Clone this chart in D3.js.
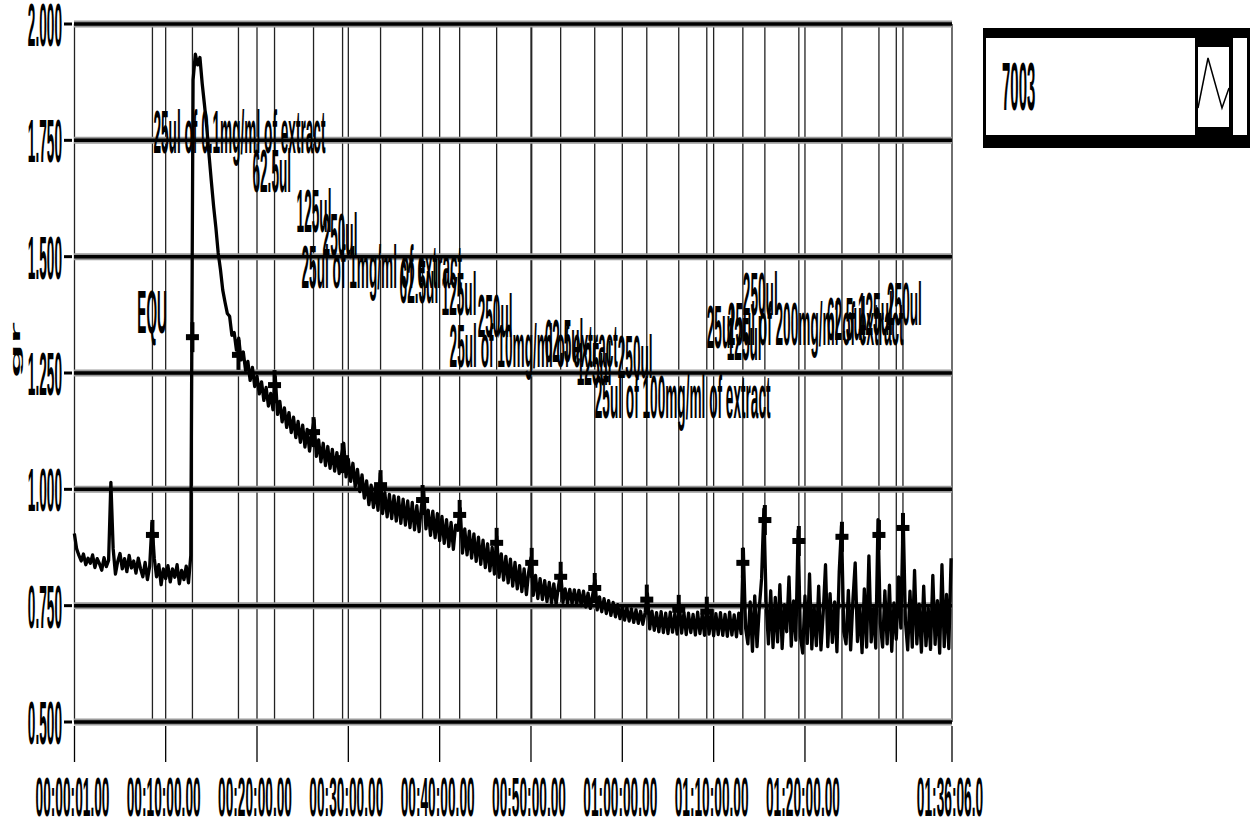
<!DOCTYPE html>
<html>
<head>
<meta charset="utf-8">
<script src="https://cdn.jsdelivr.net/npm/d3@7"></script>
<style>
  body { margin: 0; background: #fff; }
  svg text { font-family: "Liberation Sans", Arial, sans-serif; font-weight: bold; fill: #000; }
</style>
</head>
<body>
<script>
(function() {

	var width = 1252,
		height = 831;

	// recorded trace, one reading every 0.25 min from 00:00
	var sampleStepMin = 0.25;
	var grValues = [
		0.905, 0.872, 0.858, 0.846, 0.861, 0.838, 0.852, 0.841,
		0.859, 0.832, 0.851, 0.840, 0.826, 0.853, 0.834, 0.847,
		1.015, 0.872, 0.818, 0.845, 0.862, 0.829, 0.851, 0.823,
		0.858, 0.831, 0.846, 0.820, 0.852, 0.829, 0.812, 0.843,
		0.806, 0.835, 0.928, 0.852, 0.812, 0.838, 0.795, 0.829,
		0.808, 0.836, 0.801, 0.829, 0.811, 0.838, 0.797, 0.826,
		0.806, 0.835, 0.799, 0.858,
		1.880, 1.935, 1.912, 1.928, 1.872, 1.826, 1.778, 1.718,
		1.662, 1.608, 1.562, 1.508, 1.472, 1.428, 1.402, 1.378,
		1.372, 1.331, 1.337, 1.299, 1.325, 1.278, 1.295, 1.255,
		1.275, 1.234, 1.262, 1.221, 1.243, 1.205, 1.231, 1.191,
		1.219, 1.179, 1.206, 1.171, 1.242, 1.161, 1.189, 1.145,
		1.175, 1.133, 1.165, 1.122, 1.155, 1.111, 1.146, 1.101,
		1.138, 1.091, 1.129, 1.082, 1.119, 1.149, 1.071, 1.106,
		1.059, 1.099, 1.051, 1.092, 1.045, 1.086, 1.039, 1.079,
		1.034, 1.073, 1.099, 1.027, 1.065, 1.017, 1.056, 1.006,
		1.043, 0.995, 1.031, 0.981, 1.018, 0.967, 1.009, 0.961,
		1.000, 0.955, 1.035, 0.948, 0.993, 0.941, 0.989, 0.937,
		0.986, 0.932, 0.983, 0.927, 0.979, 0.923, 0.975, 0.918,
		0.972, 0.913, 0.965, 0.909, 0.962, 0.997, 0.915, 0.955,
		0.901, 0.953, 0.896, 0.948, 0.890, 0.942, 0.884, 0.935,
		0.877, 0.929, 0.871, 0.923, 0.912, 0.959, 0.863, 0.915,
		0.859, 0.910, 0.852, 0.904, 0.845, 0.897, 0.839, 0.891,
		0.832, 0.883, 0.825, 0.875, 0.818, 0.899, 0.811, 0.861,
		0.805, 0.856, 0.799, 0.850, 0.792, 0.843, 0.786, 0.836,
		0.780, 0.829, 0.774, 0.823, 0.853, 0.772, 0.815, 0.765,
		0.808, 0.763, 0.804, 0.759, 0.800, 0.756, 0.797, 0.753,
		0.790, 0.823, 0.757, 0.786, 0.755, 0.785, 0.754, 0.784,
		0.752, 0.783, 0.750, 0.781, 0.747, 0.777, 0.744, 0.773,
		0.805, 0.741, 0.769, 0.737, 0.765, 0.733, 0.761, 0.729,
		0.757, 0.726, 0.752, 0.722, 0.749, 0.719, 0.746, 0.717,
		0.743, 0.714, 0.741, 0.712, 0.738, 0.710, 0.736, 0.776,
		0.700, 0.738, 0.697, 0.735, 0.694, 0.737, 0.692, 0.734,
		0.690, 0.736, 0.693, 0.733, 0.689, 0.752, 0.691, 0.735,
		0.688, 0.734, 0.692, 0.731, 0.687, 0.736, 0.690, 0.732,
		0.686, 0.752, 0.689, 0.734, 0.685, 0.733, 0.688, 0.735,
		0.686, 0.731, 0.684, 0.736, 0.687, 0.730, 0.683, 0.734,
		0.690, 0.872, 0.702, 0.668, 0.758, 0.652, 0.771, 0.662,
		0.745, 0.808, 0.958, 0.755, 0.668, 0.782, 0.660, 0.768,
		0.672, 0.795, 0.658, 0.752, 0.694, 0.812, 0.663, 0.760,
		0.676, 0.912, 0.684, 0.648, 0.771, 0.669, 0.818, 0.657,
		0.749, 0.664, 0.792, 0.655, 0.735, 0.838, 0.662, 0.776,
		0.671, 0.758, 0.651, 0.822, 0.922, 0.694, 0.668, 0.783,
		0.655, 0.762, 0.842, 0.673, 0.748, 0.649, 0.786, 0.661,
		0.857, 0.672, 0.744, 0.659, 0.935, 0.712, 0.661, 0.782,
		0.668, 0.794, 0.652, 0.756, 0.678, 0.812, 0.702, 0.945,
		0.716, 0.655, 0.781, 0.661, 0.826, 0.668, 0.753, 0.650,
		0.792, 0.664, 0.744, 0.656, 0.815, 0.667, 0.761, 0.648,
		0.838, 0.662, 0.774, 0.658, 0.852
	];

	// event marks (minutes) and the value the "+" sits at
	var eventMin = [8.55, 12.93, 17.97, 21.92, 26.19, 29.37, 33.53, 38.13, 42.19, 46.24, 50.08,
		53.25, 56.98, 62.68, 66.18, 69.25, 73.2, 75.61, 79.33, 84.05, 88.1, 90.73];
	var eventValue = [0.902, 1.327, 1.289, 1.224, 1.123, 1.067, 1.009, 0.977, 0.945, 0.885, 0.842,
		0.812, 0.788, 0.763, 0.741, 0.737, 0.842, 0.934, 0.889, 0.898, 0.902, 0.917];

	// event notes: text, anchor time (min), anchor value (baseline)
	var noteText = ["EQU", "25ul of 0.1mg/ml of extract", "62.5ul", "125ul", "250ul",
		"25ul of 1mg/ml of extract", "62.5ul", "125ul", "250ul",
		"25ul of 10mg/ml of extract", "62.5ul", "125ul", "250ul",
		"25ul of 100mg/ml of extract", "25ul", "125ul", "250ul",
		"25ul of 200mg/ml of extract", "62.5ul", "125ul", "250ul"];
	var noteMin = [6.9, 8.66, 19.5, 24.33, 27.18, 24.87, 35.61, 40.21, 44.16, 41.09, 51.5,
		55.01, 59.5, 56.98, 69.25, 71.44, 73.2, 71.55, 82.4, 85.8, 88.98];
	var noteValue = [1.336, 1.723, 1.639, 1.553, 1.501, 1.433, 1.4, 1.375, 1.327, 1.263, 1.274,
		1.224, 1.239, 1.153, 1.304, 1.278, 1.375, 1.31, 1.321, 1.332, 1.353];

	var yTicks = [0.5, 0.75, 1.0, 1.25, 1.5, 1.75, 2.0];
	var xTickSec = [1, 600, 1200, 1800, 2400, 3000, 3600, 4200, 4800, 5400, 5766];
	var xTickLabels = ["00:00:01.00", "00:10:00.00", "00:20:00.00", "00:30:00.00", "00:40:00.00",
		"00:50:00.00", "01:00:00.00", "01:10:00.00", "01:20:00.00", "", "01:36:06.0"];
	var seriesName = "7003";
	var yTitle = "gr";

	var squeeze = 0.22,
		fontSize = 62;

	var svg = d3.select("body").append("svg")
		.attr("width", width)
		.attr("height", height);

	var x = d3.scaleLinear().domain([1, 5766]).range([74.5, 952]);
	var y = d3.scaleLinear().domain([0.5, 2.0]).range([722, 24]);

	// narrow, tall lettering like the original
	function label(g, txt, px, py, anchor, size, sq) {
		return g.append("text")
			.attr("transform", "translate(" + px + "," + py + ") scale(" + (sq || squeeze) + ",1)")
			.attr("text-anchor", anchor || "start")
			.style("font-size", (size || fontSize) + "px")
			.text(txt);
	}

	// vertical lines at the time ticks and at the events
	svg.selectAll(".vgrid")
		.data(xTickSec)
		.enter().append("line")
		.attr("x1", function(d) { return x(d); })
		.attr("x2", function(d) { return x(d); })
		.attr("y1", y(2.0))
		.attr("y2", y(0.5))
		.attr("stroke", "#222")
		.attr("stroke-width", 1.3);

	svg.selectAll(".event")
		.data(eventMin)
		.enter().append("line")
		.attr("x1", function(d) { return x(d * 60); })
		.attr("x2", function(d) { return x(d * 60); })
		.attr("y1", y(2.0))
		.attr("y2", y(0.5))
		.attr("stroke", "#222")
		.attr("stroke-width", 1.3);

	// thick horizontal grid
	var hg = svg.append("g");
	hg.selectAll(".hshadow")
		.data(yTicks)
		.enter().append("line")
		.attr("x1", 74).attr("x2", 952)
		.attr("y1", function(d) { return y(d); })
		.attr("y2", function(d) { return y(d); })
		.attr("stroke", "#9a9a9a")
		.attr("stroke-width", 7);
	hg.selectAll(".hgrid")
		.data(yTicks)
		.enter().append("line")
		.attr("x1", 74).attr("x2", 952)
		.attr("y1", function(d) { return y(d); })
		.attr("y2", function(d) { return y(d); })
		.attr("stroke", "#000")
		.attr("stroke-width", 3.5);

	// trace
	var line = d3.line()
		.x(function(d, i) { return x(i * sampleStepMin * 60); })
		.y(function(d) { return y(d); });
	svg.append("path")
		.datum(grValues)
		.attr("d", line)
		.attr("fill", "none")
		.attr("stroke", "#000")
		.attr("stroke-width", 3.3)
		.attr("stroke-linejoin", "round");

	// "+" markers
	var marks = svg.selectAll(".mark")
		.data(eventMin)
		.enter().append("g")
		.attr("transform", function(d, i) { return "translate(" + x(d * 60) + "," + y(eventValue[i]) + ")"; });
	marks.append("rect").attr("x", -6.5).attr("y", -3).attr("width", 13).attr("height", 6).attr("fill", "#000");
	marks.append("rect").attr("x", -2).attr("y", -15).attr("width", 4).attr("height", 30).attr("fill", "#000");

	// notes
	var notes = svg.append("g");
	noteText.forEach(function(t, i) {
		label(notes, t, x(noteMin[i] * 60), y(noteValue[i]));
	});

	// y axis
	svg.selectAll(".ytick")
		.data(yTicks)
		.enter().append("line")
		.attr("x1", 64).attr("x2", 72)
		.attr("y1", function(d) { return y(d); })
		.attr("y2", function(d) { return y(d); })
		.attr("stroke", "#000")
		.attr("stroke-width", 3);
	var fmt = d3.format(".3f");
	yTicks.forEach(function(d) {
		label(svg, fmt(d), 62, y(d) + 22, "end");
	});
	svg.append("text")
		.attr("transform", "translate(20,378) rotate(-90) scale(1,0.24)")
		.style("font-size", "56px")
		.text(yTitle);

	// x axis
	svg.selectAll(".xtick")
		.data(xTickSec)
		.enter().append("line")
		.attr("x1", function(d) { return x(d); })
		.attr("x2", function(d) { return x(d); })
		.attr("y1", 726).attr("y2", 762)
		.attr("stroke", "#000")
		.attr("stroke-width", 1.3);
	xTickSec.forEach(function(d, i) {
		label(svg, xTickLabels[i], x(d) - 2, 816, "middle", 56, 0.245);
	});

	// legend box
	var lg = svg.append("g");
	lg.append("rect").attr("x", 983).attr("y", 28).attr("width", 267).attr("height", 120).attr("fill", "#000");
	lg.append("rect").attr("x", 986).attr("y", 38).attr("width", 209).attr("height", 97).attr("fill", "#fff");
	lg.append("rect").attr("x", 1198).attr("y", 47).attr("width", 31).attr("height", 80).attr("fill", "#fff");
	lg.append("rect").attr("x", 1233).attr("y", 38).attr("width", 14).attr("height", 97).attr("fill", "#fff");
	lg.append("path")
		.attr("d", "M1198,108 L1208,58 L1222,108 L1229,88")
		.attr("fill", "none")
		.attr("stroke", "#000")
		.attr("stroke-width", 1.5);
	label(lg, seriesName, 1002, 110, "start", 68);

})();
</script>
</body>
</html>
